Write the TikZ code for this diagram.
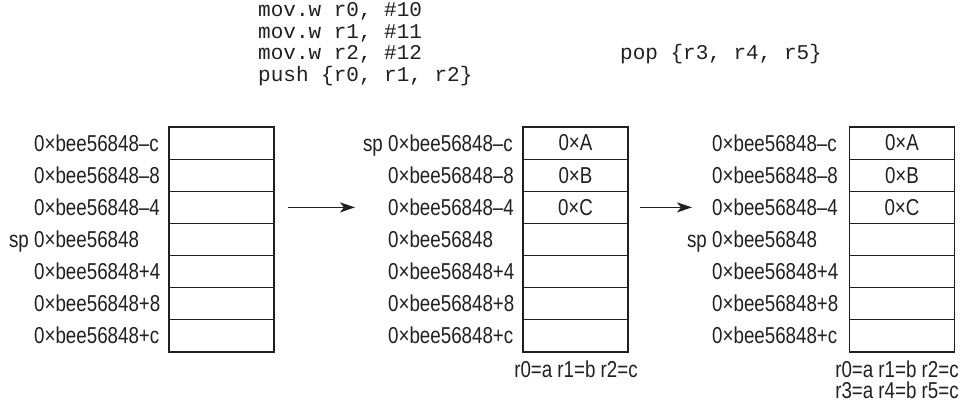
\documentclass[tikz,border=0pt]{standalone}
\usepackage{fontspec}
\setmainfont{Liberation Sans}[FakeStretch=0.815]
\setmonofont{Liberation Mono}
\usetikzlibrary{arrows.meta}
\newcommand\labfont{\fontsize{23}{26}\selectfont}
\newcommand\codefont{\ttfamily\fontsize{21}{24}\selectfont}
\definecolor{ink}{RGB}{35,31,32}
\begin{document}
\begin{tikzpicture}[x=1pt,y=-1pt,
  cell/.style={draw=ink, line width=1.2pt, minimum width=105pt, minimum height=32.14pt, inner sep=0pt, font=\labfont, text=ink},
  addr/.style={anchor=base west, inner sep=0pt, font=\labfont, text=ink},
  spl/.style={anchor=base east, inner sep=0pt, font=\labfont, text=ink},
  regs/.style={anchor=base, inner sep=0pt, font=\labfont, text=ink},
  code/.style={anchor=base west, inner sep=0pt, font=\codefont, text=ink},
  flow/.style={draw=ink, line width=1.5pt, -{Stealth[length=15pt,width=10pt,inset=4pt]}}]
\useasboundingbox (0,0) rectangle (971,403);
% code
\node[code] (c1) at (258,17) {mov.w r0, \#10};
\node[code] (c2) at (258,38.5) {mov.w r1, \#11};
\node[code] (c3) at (258,60) {mov.w r2, \#12};
\node[code] (c4) at (258,81.5) {push \{r0, r1, r2\}};
\node[code] (c5) at (620,60) {pop \{r3, r4, r5\}};
% stacks
\foreach \s/\bx/\ax/\ca/\cb/\cc in {1/221.5/34/{}/{}/{}, 2/575.5/388/0×A/0×B/0×C, 3/902/712/0×A/0×B/0×C} {
  \foreach \i/\suf/\txt in {1/–c/\ca, 2/–8/\cb, 3/–4/\cc, 4/{}/{}, 5/+4/{}, 6/+8/{}, 7/+c/{}} {
    \pgfmathsetmacro{\yc}{127+(\i-0.5)*32.14}
    \node[cell] (s\s-\i) at (\bx,\yc) {\txt};
    \node[addr] (l\s-\i) at (\ax,\yc+8) {0×bee56848\suf};
  }
}
\pgfmathsetmacro{\ya}{127+0.5*32.14+8}
\pgfmathsetmacro{\yd}{127+3.5*32.14+8}
\node[spl] (sp1) at (29,\yd) {sp};
\node[spl] (sp2) at (383,\ya) {sp};
\node[spl] (sp3) at (707,\yd) {sp};
% register values
\node[regs] (rv2) at (576,377) {r0=a r1=b r2=c};
\node[regs] (rv3a) at (897,377) {r0=a r1=b r2=c};
\node[regs] (rv3b) at (897,398) {r3=a r4=b r5=c};
% arrows
\coordinate (a1s) at (288,207.4);
\coordinate (a1e) at (355,207.4);
\coordinate (a2s) at (640,207.4);
\coordinate (a2e) at (692,207.4);
\draw[flow] (a1s) -- (a1e);
\draw[flow] (a2s) -- (a2e);
\end{tikzpicture}
\end{document}
